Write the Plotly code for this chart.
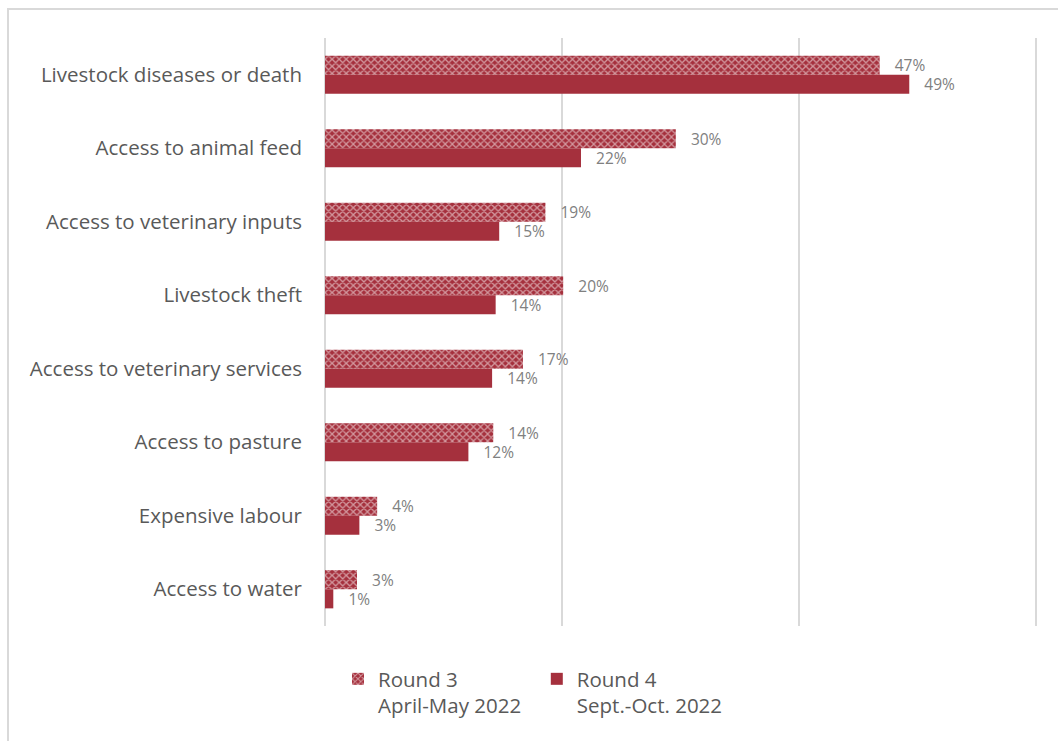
import plotly.graph_objects as go

categories = [
    "Livestock diseases or death",
    "Access to animal feed",
    "Access to veterinary inputs",
    "Livestock theft",
    "Access to veterinary services",
    "Access to pasture",
    "Expensive labour",
    "Access to water",
]
round3 = [46.8, 29.6, 18.6, 20.1, 16.7, 14.2, 4.4, 2.7]
round4 = [49.3, 21.6, 14.7, 14.4, 14.1, 12.1, 2.9, 0.7]
round3_name = "Round 3<br>April-May 2022\u00a0\u00a0"
round4_name = "Round 4<br>Sept.-Oct. 2022"

RED = "#A5303D"
FONT = "Open Sans, Noto Sans, sans-serif"
GRAY = "#595959"
PAD = "\u00a0" * 3

fig = go.Figure()
fig.add_trace(go.Bar(
    y=categories, x=round3, orientation="h", name=round3_name,
    marker=dict(color=RED, line=dict(width=0),
                pattern=dict(shape="x", fgcolor="white", bgcolor=RED, size=5, solidity=0.45)),
    text=[f"{PAD}{round(v)}%" for v in round3], textposition="outside",
    constraintext="none",
    textfont=dict(size=15.5, color="#808080", family=FONT), cliponaxis=False,
))
fig.add_trace(go.Bar(
    y=categories, x=round4, orientation="h", name=round4_name,
    marker=dict(color=RED, line=dict(width=0)),
    text=[f"{PAD}{round(v)}%" for v in round4], textposition="outside",
    constraintext="none",
    textfont=dict(size=15.5, color="#808080", family=FONT), cliponaxis=False,
))

L, R, T, B = 325, 16, 38, 115
W, H = 1058, 741
pw, ph = W - L - R, H - T - B

fig.update_layout(
    width=W, height=H,
    margin=dict(l=L, r=R, t=T, b=B),
    paper_bgcolor="white", plot_bgcolor="white",
    barmode="group", bargap=0.48, bargroupgap=0,
    font=dict(family=FONT, color=GRAY),
    showlegend=True,
    legend=dict(orientation="h", x=(338 - L) / pw, xanchor="left",
                y=(H - B - 659) / ph, yanchor="top", valign="top",
                font=dict(size=20.5, color=GRAY, family=FONT), itemwidth=30,
                traceorder="normal"),
    xaxis=dict(range=[0, 60.5], dtick=20, showticklabels=False, showgrid=True,
               gridcolor="#D9D9D9", gridwidth=2, zeroline=True, zerolinecolor="#D9D9D9",
               zerolinewidth=2, fixedrange=True),
    yaxis=dict(autorange="reversed", tickfont=dict(size=20.5, color=GRAY, family=FONT),
               ticks="", showgrid=False, ticklabelstandoff=22),
    shapes=[dict(type="rect", xref="paper", yref="paper",
                 x0=(8 - L) / pw, x1=(1070 - L) / pw,
                 y0=(H - B - 760) / ph, y1=(H - B - 9) / ph,
                 line=dict(color="#D9D9D9", width=2), fillcolor="rgba(0,0,0,0)", layer="below")],
)

fig.write_html("out.html")
